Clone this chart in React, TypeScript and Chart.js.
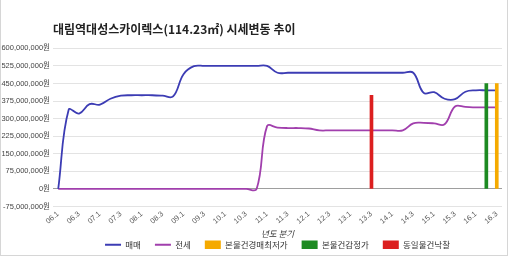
import React, { useEffect, useRef } from 'react';
import { Chart, registerables } from 'chart.js';

Chart.register(...registerables);

const titleText = '대림역대성스카이렉스(114.23㎡) 시세변동 추이';
const xAxisTitle = '년도 분기';

const quarters = [
  '06.1', '06.2', '06.3', '06.4',
  '07.1', '07.2', '07.3', '07.4',
  '08.1', '08.2', '08.3', '08.4',
  '09.1', '09.2', '09.3', '09.4',
  '10.1', '10.2', '10.3', '10.4',
  '11.1', '11.2', '11.3', '11.4',
  '12.1', '12.2', '12.3', '12.4',
  '13.1', '13.2', '13.3', '13.4',
  '14.1', '14.2', '14.3', '14.4',
  '15.1', '15.2', '15.3', '15.4',
  '16.1', '16.2', '16.3',
];

// 매매 (won)
const salePrices = [
  0, 338000000, 322000000, 362000000,
  360000000, 385000000, 398000000, 400000000,
  400000000, 400000000, 398000000, 395000000,
  490000000, 524000000, 525000000, 525000000,
  525000000, 525000000, 525000000, 525000000,
  525000000, 496000000, 496000000, 496000000,
  496000000, 496000000, 496000000, 496000000,
  496000000, 496000000, 496000000, 496000000,
  496000000, 496000000, 496000000, 410000000,
  413000000, 385000000, 383000000, 415000000,
  421000000, 421000000, 421000000,
];

// 전세 (won)
const jeonsePrices = [
  0, 0, 0, 0,
  0, 0, 0, 0,
  0, 0, 0, 0,
  0, 0, 0, 0,
  0, 0, 0, 0,
  268000000, 262000000, 260000000, 260000000,
  258000000, 250000000, 250000000, 250000000,
  250000000, 250000000, 250000000, 250000000,
  250000000, 250000000, 280000000, 282000000,
  280000000, 276000000, 352000000, 350000000,
  348000000, 348000000, 348000000,
];

// single-event markers
const auctionMinQuarter = '16.3';
const auctionMinValue = 450000000; // 본물건경매최저가
const appraisalQuarter = '16.2';
const appraisalValue = 450000000; // 본물건감정가
const sameItemBidQuarter = '13.3';
const sameItemBidValue = 400000000; // 동일물건낙찰

const yMin = -75000000;
const yMax = 600000000;
const yStep = 75000000;

const FONT = "'Liberation Sans', 'Noto Sans CJK KR', sans-serif";
const KR = "'Noto Sans CJK KR', 'Liberation Sans', sans-serif";

const marker = (q: string, v: number) => quarters.map((x) => (x === q ? v : null));

export default function App() {
  const ref = useRef<HTMLCanvasElement | null>(null);

  useEffect(() => {
    if (!ref.current) return;
    const chart = new Chart(ref.current, {
      type: 'line',
      data: {
        labels: quarters,
        datasets: [
          {
            type: 'line',
            label: '매매',
            data: salePrices,
            borderColor: '#3c3cb4',
            backgroundColor: '#3c3cb4',
            borderWidth: 1.8,
            pointRadius: 0,
            tension: 0.4,
            fill: false,
            pointStyle: 'line',
            order: 0,
          },
          {
            type: 'line',
            label: '전세',
            data: jeonsePrices,
            borderColor: '#a13fad',
            backgroundColor: '#a13fad',
            borderWidth: 1.8,
            pointRadius: 0,
            tension: 0.4,
            fill: false,
            pointStyle: 'line',
            order: 0,
          },
          {
            type: 'bar',
            label: '본물건경매최저가',
            data: marker(auctionMinQuarter, auctionMinValue),
            backgroundColor: '#f5aa00',
            borderWidth: 0,
            barThickness: 3,
            grouped: false,
            pointStyle: 'rect',
            order: -1,
          },
          {
            type: 'bar',
            label: '본물건감정가',
            data: marker(appraisalQuarter, appraisalValue),
            backgroundColor: '#1d8a22',
            borderWidth: 0,
            barThickness: 3,
            grouped: false,
            pointStyle: 'rect',
            order: -1,
          },
          {
            type: 'bar',
            label: '동일물건낙찰',
            data: marker(sameItemBidQuarter, sameItemBidValue),
            backgroundColor: '#dc1f1f',
            borderWidth: 0,
            barThickness: 3,
            grouped: false,
            pointStyle: 'rect',
            order: -1,
          },
        ] as any,
      },
      options: {
        animation: false,
        responsive: false,
        maintainAspectRatio: false,
        layout: { padding: { left: 0, right: 8, top: 0, bottom: 0 } },
        plugins: {
          title: {
            display: true,
            text: titleText,
            align: 'start',
            fullSize: false,
            color: '#222',
            font: { family: KR, size: 12, weight: 'bold' },
            padding: { top: 22, bottom: 12 },
          },
          legend: {
            position: 'bottom',
            fullSize: false,
            labels: {
              usePointStyle: true,
              pointStyleWidth: 16,
              boxHeight: 9,
              padding: 14,
              color: '#333',
              font: { family: KR, size: 8.5 },
              sort: (a: any, b: any) => a.datasetIndex - b.datasetIndex,
            },
          },
          tooltip: { enabled: false },
        },
        scales: {
          x: {
            type: 'category',
            offset: true,
            grid: { display: false, drawTicks: false },
            border: { display: false },
            ticks: {
              autoSkip: false,
              minRotation: 40,
              maxRotation: 40,
              padding: 3,
              color: '#555',
              font: { family: FONT, size: 7.5 },
              callback: (_v: any, i: number) => (i % 2 === 0 ? quarters[i] : ''),
            },
            title: {
              display: true,
              text: xAxisTitle,
              color: '#333',
              font: { family: KR, size: 8.5, style: 'italic' },
              padding: { top: 0, bottom: -12 },
            },
            afterFit: (s: any) => {
              s.height = 20;
            },
          },
          y: {
            min: yMin,
            max: yMax,
            ticks: {
              stepSize: yStep,
              padding: 3,
              color: '#444',
              font: { family: FONT, size: 7.5 },
              callback: (v: any) => Number(v).toLocaleString('en-US') + '원',
            },
            grid: {
              drawTicks: false,
              color: (ctx: any) => (ctx.tick && ctx.tick.value === 0 ? '#9e9e9e' : '#e3e3e3'),
              lineWidth: 1,
            },
            border: { display: false },
            afterFit: (s: any) => {
              s.width = 53;
            },
          },
        },
      } as any,
    });
    return () => chart.destroy();
  }, []);

  return (
    <div style={{ position: 'absolute', left: 0, top: 0, width: 510, height: 259, background: '#fff' }}>
      <canvas ref={ref} width={510} height={259} style={{ display: 'block' }} />
      <div
        style={{
          position: 'absolute',
          left: 0,
          top: 0,
          width: 506,
          height: 255,
          borderLeft: '1px solid #d6d6d6',
          borderRight: '1px solid #d6d6d6',
          borderBottom: '1px solid #d6d6d6',
          pointerEvents: 'none',
        }}
      />
    </div>
  );
}
